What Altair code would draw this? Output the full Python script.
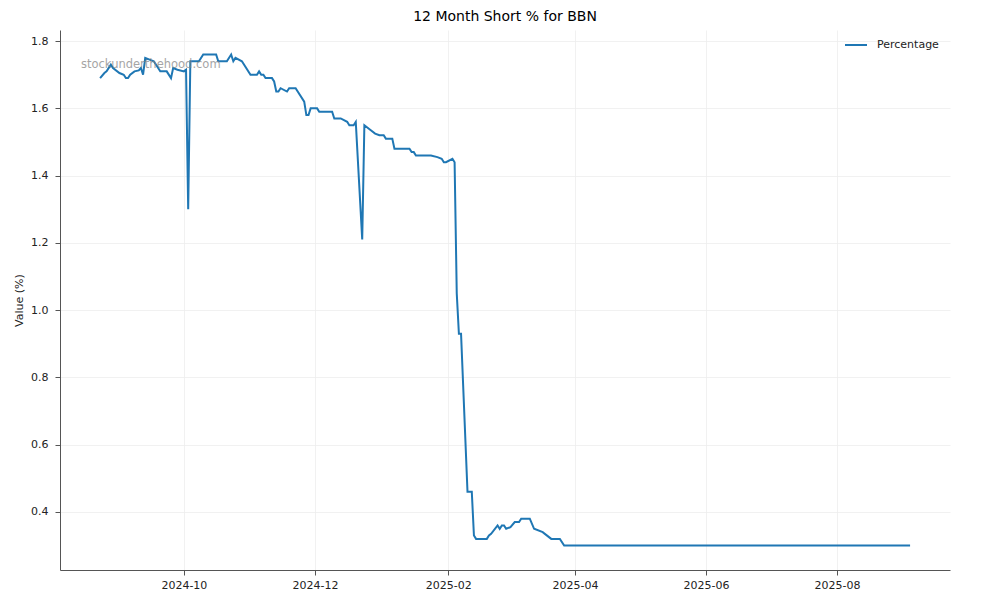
import altair as alt
import pandas as pd

# ---- data ----
dates = [
    "2024-08-23", "2024-08-25", "2024-08-26", "2024-08-28", "2024-08-29",
    "2024-09-01", "2024-09-03", "2024-09-04", "2024-09-05", "2024-09-06",
    "2024-09-08", "2024-09-10", "2024-09-11", "2024-09-12", "2024-09-13",
    "2024-09-15", "2024-09-17", "2024-09-20", "2024-09-23", "2024-09-25",
    "2024-09-26", "2024-09-28", "2024-10-01", "2024-10-02", "2024-10-03",
    "2024-10-04", "2024-10-08", "2024-10-10", "2024-10-16", "2024-10-17",
    "2024-10-21", "2024-10-23", "2024-10-24", "2024-10-25", "2024-10-28",
    "2024-11-01", "2024-11-04", "2024-11-05", "2024-11-06", "2024-11-07",
    "2024-11-08", "2024-11-11", "2024-11-12", "2024-11-13", "2024-11-14",
    "2024-11-15", "2024-11-18", "2024-11-19", "2024-11-22", "2024-11-26",
    "2024-11-27", "2024-11-28", "2024-11-29", "2024-12-02", "2024-12-03",
    "2024-12-09", "2024-12-10", "2024-12-13", "2024-12-16", "2024-12-17",
    "2024-12-19", "2024-12-20", "2024-12-23", "2024-12-24", "2024-12-27",
    "2024-12-29", "2024-12-31", "2025-01-02", "2025-01-03", "2025-01-06",
    "2025-01-07", "2025-01-14", "2025-01-15", "2025-01-16", "2025-01-17",
    "2025-01-24", "2025-01-27", "2025-01-29", "2025-01-30", "2025-01-31",
    "2025-02-03", "2025-02-04", "2025-02-05", "2025-02-06", "2025-02-07",
    "2025-02-10", "2025-02-12", "2025-02-13", "2025-02-14", "2025-02-19",
    "2025-02-20", "2025-02-21", "2025-02-24", "2025-02-25", "2025-02-26",
    "2025-02-27", "2025-02-28", "2025-03-02", "2025-03-04", "2025-03-06",
    "2025-03-07", "2025-03-11", "2025-03-13", "2025-03-17", "2025-03-18",
    "2025-03-21", "2025-03-25", "2025-03-27", "2025-09-04",
]
values = [
    1.69, 1.705, 1.71, 1.73, 1.72,
    1.705, 1.70, 1.69, 1.69, 1.70,
    1.71, 1.713, 1.72, 1.70, 1.75,
    1.745, 1.74, 1.71, 1.71, 1.69,
    1.72, 1.715, 1.71, 1.715, 1.30,
    1.74, 1.74, 1.76, 1.76, 1.74,
    1.74, 1.76, 1.74, 1.75, 1.74,
    1.70, 1.70, 1.71, 1.70, 1.70,
    1.69, 1.69, 1.68, 1.65, 1.65,
    1.66, 1.65, 1.66, 1.66, 1.62,
    1.58, 1.58, 1.60, 1.60, 1.59,
    1.59, 1.57, 1.57, 1.56, 1.55,
    1.55, 1.56, 1.21, 1.55, 1.535,
    1.525, 1.52, 1.52, 1.51, 1.51,
    1.48, 1.48, 1.47, 1.47, 1.46,
    1.46, 1.455, 1.45, 1.44, 1.44,
    1.45, 1.44, 1.05, 0.93, 0.93,
    0.46, 0.46, 0.33, 0.32, 0.32,
    0.33, 0.335, 0.36, 0.35, 0.36,
    0.36, 0.35, 0.355, 0.37, 0.37,
    0.38, 0.38, 0.35, 0.34, 0.335,
    0.32, 0.32, 0.30, 0.30,
]
series_name = "Percentage"
x_tick_dates = ["2024-10-01", "2024-12-01", "2025-02-01", "2025-04-01", "2025-06-01", "2025-08-01"]
y_tick_values = [0.4, 0.6, 0.8, 1.0, 1.2, 1.4, 1.6, 1.8]
x_domain = [("2024-08-04", 8), ("2025-09-22", 14)]
y_domain = [0.2275, 1.833]
watermark = "stockunderthehood.com"
title_text = "12 Month Short % for BBN"
y_title = "Value (%)"

FONT = "DejaVu Sans"
BLUE = "#1f77b4"


def dt(s, h=0):
    y, m, d = (int(p) for p in s.split("-"))
    return alt.DateTime(year=y, month=m, date=d, hours=h, utc=True)


df = pd.DataFrame({"date": dates, "value": values, "series": series_name})

line = alt.Chart(df).mark_line(strokeWidth=2, clip=True).encode(
    x=alt.X(
        "date:T",
        scale=alt.Scale(type="utc", domain=[dt(s, h) for s, h in x_domain]),
        axis=alt.Axis(
            title=None,
            values=[dt(s) for s in x_tick_dates],
            format="%Y-%m",
            formatType="time",
            labelPadding=4,
        ),
    ),
    y=alt.Y(
        "value:Q",
        scale=alt.Scale(domain=y_domain, nice=False, zero=False),
        axis=alt.Axis(
            title=y_title,
            values=y_tick_values,
            format=".1f",
            labelPadding=7,
            titlePadding=6,
        ),
    ),
    color=alt.Color(
        "series:N",
        scale=alt.Scale(range=[BLUE]),
        legend=alt.Legend(
            title=None,
            orient="none",
            legendX=784,
            legendY=3,
            symbolType="stroke",
            symbolSize=484,
            symbolStrokeWidth=2,
            labelFontSize=11,
            labelFont=FONT,
            labelColor="#222222",
            labelOffset=9,
            padding=0,
        ),
    ),
)

wm = alt.Chart(pd.DataFrame({"t": [watermark]})).mark_text(
    align="left", baseline="middle", fontSize=11.5, font=FONT, color="#808080", opacity=0.7
).encode(text="t:N", x=alt.value(21), y=alt.value(35))

chart = (
    alt.layer(line, wm)
    .properties(
        width=890,
        height=540,
        title=alt.Title(title_text, fontSize=14, font=FONT, fontWeight="normal", color="#000000", offset=6),
        padding={"left": 52, "top": 22, "right": 42, "bottom": 25},
        autosize=alt.AutoSizeParams(type="none"),
    )
    .configure_view(stroke=None)
    .configure_axis(
        labelFont=FONT,
        labelFontSize=11,
        labelColor="#222222",
        titleFont=FONT,
        titleFontSize=11,
        titleFontWeight="normal",
        titleColor="#222222",
        domainColor="#555555",
        tickColor="#555555",
        tickSize=5,
        gridColor="#eeeeee",
        gridWidth=0.8,
    )
)

chart.save("out.html", embed_options={"renderer": "svg", "actions": False})
